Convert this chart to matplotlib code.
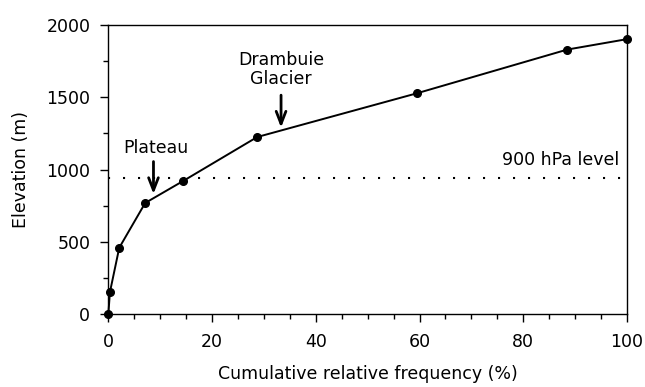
import matplotlib
matplotlib.use("Agg")
import matplotlib.pyplot as plt
from matplotlib.ticker import MultipleLocator

plt.rcParams['font.family'] = ['DejaVu Sans']

freq = [0, 0.3, 2.1, 7.1, 14.4, 28.7, 59.5, 88.5, 100]
elev = [0, 150, 458, 768, 920, 1225, 1528, 1831, 1903]
level_900 = 940
level_label = "900 hPa level"
ann_plateau = ("Plateau", 8.7, 830, 1055)
ann_glacier = ("Drambuie\nGlacier", 33.3, 1290, 1515)

FS = 12.5

fig = plt.figure(figsize=(6.45, 3.87), dpi=100)
ax = fig.add_axes([0.168, 0.189, 0.804, 0.746])

ax.plot(freq, elev, color='black', lw=1.4, marker='o', ms=5.5, clip_on=False, zorder=3)
ax.plot([0, 100], [level_900, level_900], color='black', lw=1.5,
        linestyle=(0, (1, 6.2)), dash_capstyle='butt')

ax.text(98.6, 1068, level_label, ha='right', va='center', fontsize=FS)

for label, x, ytip, ytail in [ann_plateau, ann_glacier]:
    ax.annotate('', xy=(x, ytip), xytext=(x, ytail),
                arrowprops=dict(arrowstyle='->,head_width=0.35,head_length=0.9',
                                lw=2.0, color='black', shrinkA=0, shrinkB=0))
ax.text(ann_plateau[1] + 0.4, 1150, ann_plateau[0], ha='center', va='center', fontsize=FS)
ax.text(ann_glacier[1], 1695, ann_glacier[0], ha='center', va='center', fontsize=FS,
        linespacing=1.05)

ax.set_xlim(0, 100)
ax.set_ylim(0, 2000)
ax.xaxis.set_major_locator(MultipleLocator(20))
ax.xaxis.set_minor_locator(MultipleLocator(5))
ax.yaxis.set_major_locator(MultipleLocator(500))
ax.yaxis.set_minor_locator(MultipleLocator(250))
ax.tick_params(which='major', direction='out', length=6, width=1, labelsize=FS, pad=7)
ax.tick_params(axis='x', which='major', pad=8)
ax.tick_params(which='minor', direction='out', length=3.8, width=1)
ax.tick_params(top=False, right=False, which='both')
for s in ax.spines.values():
    s.set_linewidth(1)

ax.set_xlabel("Cumulative relative frequency (%)", fontsize=FS, labelpad=10)
ax.set_ylabel("Elevation (m)", fontsize=FS, labelpad=12)

fig.savefig("out.png", dpi=100)
